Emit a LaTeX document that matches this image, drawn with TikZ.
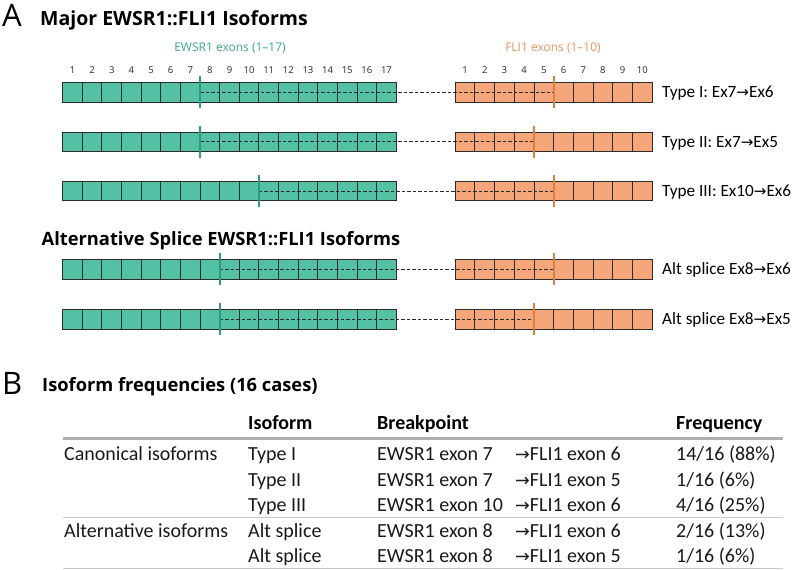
\documentclass[tikz,border=0pt]{standalone}
\usepackage{fontspec}
\setmainfont{Carlito}
\newfontfamily\osans{Open Sans}
\newfontfamily\arrowfont{DejaVu Sans}
\newcommand\myarr{\scalebox{0.88}{\arrowfont\char"2192}}
\definecolor{tealfill}{HTML}{54C0A4}
\definecolor{tealline}{HTML}{2E9B7E}
\definecolor{tealtext}{HTML}{3DA58A}
\definecolor{orangefill}{HTML}{F5A67B}
\definecolor{orangeline}{HTML}{E0803F}
\definecolor{orangetext}{HTML}{E8935E}
\definecolor{boxline}{HTML}{2B2B2B}
\definecolor{rulegray}{HTML}{AEAEAE}
\definecolor{thingray}{HTML}{C8C8C8}
\begin{document}
\begin{tikzpicture}[x=1pt,y=-1pt,
  ebox/.style={draw=boxline, fill=tealfill, line width=0.9pt, minimum width=19.62pt, minimum height=19.5pt, inner sep=0pt, outer sep=0pt},
  fbox/.style={draw=boxline, fill=orangefill, line width=0.9pt, minimum width=19.7pt, minimum height=19.5pt, inner sep=0pt, outer sep=0pt},
  dashline/.style={draw=boxline, line width=0.75pt, dash pattern=on 3.5pt off 2pt},
  ebreak/.style={draw=tealline, line width=1.8pt},
  fbreak/.style={draw=orangeline, line width=1.8pt},
  rowlab/.style={font=\fontsize{17.2}{20}\selectfont, inner sep=0pt, anchor=base west},
  num/.style={font=\osans\fontsize{9.5}{10}\selectfont, text=black!85, inner sep=0pt, anchor=base},
  sectitle/.style={font=\osans\bfseries\fontsize{18.5}{20}\selectfont, inner sep=0pt, anchor=base west},
  panel/.style={font=\osans\fontsize{31}{32}\selectfont, inner sep=0pt, anchor=base west},
  td/.style={font=\fontsize{20}{22}\selectfont, text=black!90, inner sep=0pt, anchor=base west},
  th/.style={font=\bfseries\fontsize{20}{22}\selectfont, inner sep=0pt, anchor=base west},
  thickrule/.style={draw=rulegray, line width=3pt},
  thinrule/.style={draw=thingray, line width=1pt}
]
\useasboundingbox[fill=white] (0,0) rectangle (798,570);

% Panel A
\node[panel] (pA) at (2,26.5) {A};
\node[sectitle, font=\osans\bfseries\fontsize{19.5}{21}\selectfont] (t1) at (40,25) {Major EWSR1::FLI1 Isoforms};
\node[font=\osans\fontsize{12}{13}\selectfont, text=tealtext, inner sep=0pt, anchor=base] (eh) at (230,51.5) {EWSR1 exons (1–17)};
\node[font=\osans\fontsize{12}{13}\selectfont, text=orangetext, inner sep=0pt, anchor=base] (fh) at (553,51.5) {FLI1 exons (1–10)};
\foreach \i in {1,...,17} \node[num] (en\i) at ({62.7+(\i-0.5)*19.62},73.3) {\i};
\foreach \i in {1,...,10} \node[num] (fn\i) at ({455.2+(\i-0.5)*19.7},73.3) {\i};

\node[sectitle, font=\osans\bfseries\fontsize{18.3}{20}\selectfont] (t2) at (41.5,245) {Alternative Splice EWSR1::FLI1 Isoforms};

\foreach \r/\cy/\eb/\fb/\lab in {
  1/92.2/7/5/{Type I: Ex7\myarr Ex6},
  2/141.7/7/4/{Type II: Ex7\myarr Ex5},
  3/191/10/5/{Type III: Ex10\myarr Ex6},
  4/269.3/8/5/{Alt splice Ex8\myarr Ex6},
  5/319.3/8/4/{Alt splice Ex8\myarr Ex5}} {
  \foreach \i in {1,...,17} \node[ebox] (e\r-\i) at ({62.7+(\i-0.5)*19.62},\cy) {};
  \foreach \i in {1,...,10} \node[fbox] (f\r-\i) at ({455.2+(\i-0.5)*19.7},\cy) {};
  \coordinate (eb\r) at ({62.7+\eb*19.62},\cy);
  \coordinate (fb\r) at ({455.2+\fb*19.7},\cy);
  \draw[dashline] (eb\r) -- (fb\r);
  \draw[ebreak] ([yshift=16pt]eb\r) -- ([yshift=-16pt]eb\r);
  \draw[fbreak] ([yshift=16pt]fb\r) -- ([yshift=-16pt]fb\r);
  \node[rowlab] (l\r) at (662,\cy+5.5) {\lab};
}

% Panel B
\node[panel] (pB) at (2,394.5) {B};
\node[sectitle, font=\osans\bfseries\fontsize{18.3}{20}\selectfont] (t3) at (42,391.5) {Isoform frequencies (16 cases)};

\node[th] (hiso) at (248,429) {Isoform};
\node[th] (hbp) at (377,429) {Breakpoint};
\node[th] (hfr) at (676,429) {Frequency};
\draw[thickrule] (63,438.5) -- (783,438.5);

\node[td] (g1) at (64,460.5) {Canonical isoforms};
\node[td] (i1) at (248,460.5) {Type I};
\node[td] (b1) at (377,460.5) {EWSR1 exon 7};
\node[td] (c1) at (515,460.5) {\myarr FLI1 exon 6};
\node[td] (q1) at (676,460.5) {14/16 (88\%)};

\node[td] (i2) at (248,486) {Type II};
\node[td] (b2) at (377,486) {EWSR1 exon 7};
\node[td] (c2) at (515,486) {\myarr FLI1 exon 5};
\node[td] (q2) at (676,486) {1/16 (6\%)};

\node[td] (i3) at (248,511.5) {Type III};
\node[td] (b3) at (377,511.5) {EWSR1 exon 10};
\node[td] (c3) at (515,511.5) {\myarr FLI1 exon 6};
\node[td] (q3) at (676,511.5) {4/16 (25\%)};

\draw[thinrule] (63,517) -- (783,517);

\node[td] (g2) at (64,537) {Alternative isoforms};
\node[td] (i4) at (248,537) {Alt splice};
\node[td] (b4) at (377,537) {EWSR1 exon 8};
\node[td] (c4) at (515,537) {\myarr FLI1 exon 6};
\node[td] (q4) at (676,537) {2/16 (13\%)};

\node[td] (i5) at (248,562.5) {Alt splice};
\node[td] (b5) at (377,562.5) {EWSR1 exon 8};
\node[td] (c5) at (515,562.5) {\myarr FLI1 exon 5};
\node[td] (q5) at (676,562.5) {1/16 (6\%)};

\draw[thinrule] (63,568.3) -- (783,568.3);
\end{tikzpicture}
\end{document}
